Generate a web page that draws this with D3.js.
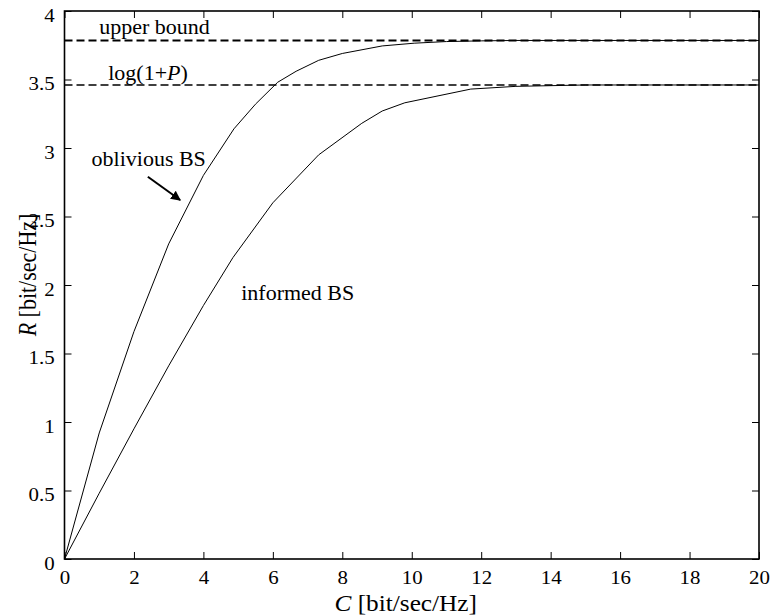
<!DOCTYPE html>
<html>
<head>
<meta charset="utf-8">
<script src="https://cdn.jsdelivr.net/npm/d3@7"></script>
<style>
    body { margin: 0; background: #fff; }
    text { font-family: "Liberation Serif", "Times New Roman", serif; fill: #000; }
</style>
</head>
<body>
<svg id="chart"></svg>
<script>
// values
const cOblivious = [0, 1, 2, 3, 4, 4.88, 5.5, 6.14, 6.67, 7.32, 8, 9.15, 10.07, 11, 12, 13, 20];
const rOblivious = [0, 0.92, 1.66, 2.3, 2.8, 3.14, 3.32, 3.48, 3.56, 3.64, 3.69, 3.745, 3.765, 3.777, 3.782, 3.785, 3.785];

const cInformed = [0, 1, 2, 3, 4, 4.85, 6, 7.32, 8.56, 9.15, 9.8, 11.7, 13, 15, 20];
const rInformed = [0, 0.48, 0.95, 1.41, 1.85, 2.2, 2.6, 2.95, 3.18, 3.27, 3.33, 3.43, 3.45, 3.46, 3.46];

const upperBound = 3.785;
const logOnePlusP = 3.46;

const xTicks = [0, 2, 4, 6, 8, 10, 12, 14, 16, 18, 20];
const xTickLabels = ["0", "2", "4", "6", "8", "10", "12", "14", "16", "18", "20"];
const yTicks = [0, 0.5, 1, 1.5, 2, 2.5, 3, 3.5, 4];
const yTickLabels = ["0", "0.5", "1", "1.5", "2", "2.5", "3", "3.5", "4"];

const width = 772, height = 616;
const margin = { top: 11, right: 13, bottom: 57, left: 64.5 };
const innerW = width - margin.left - margin.right;
const innerH = height - margin.top - margin.bottom;
const sx = 1.1; // the figure's text is a bit stretched sideways

const svg = d3.select("#chart").attr("width", width).attr("height", height);
const g = svg.append("g").attr("transform", `translate(${margin.left},${margin.top})`);

const x = d3.scaleLinear().domain([0, 20]).range([0, innerW]);
const y = d3.scaleLinear().domain([0, 4]).range([innerH, 0]);

// axes, matlab style: inward ticks on all four sides
const styleAxis = sel => {
    sel.select(".domain").remove();
    sel.selectAll("line").attr("stroke", "#000").attr("stroke-width", 1);
};

g.append("g")
    .attr("transform", `translate(0,${innerH})`)
    .call(d3.axisBottom(x).tickValues(xTicks).tickFormat((d, i) => xTickLabels[i])
        .tickSizeInner(-7).tickSizeOuter(0).tickPadding(12))
    .call(styleAxis)
    .call(a => a.selectAll("text")
        .attr("font-size", 19)
        .attr("transform", `scale(${sx},1)`));

g.append("g")
    .call(d3.axisLeft(y).tickValues(yTicks).tickFormat((d, i) => yTickLabels[i])
        .tickSizeInner(-7).tickSizeOuter(0).tickPadding(9))
    .call(styleAxis)
    .call(a => a.selectAll("text")
        .attr("font-size", 19)
        .attr("dy", "0.55em")
        .attr("transform", `scale(${sx},1)`));

g.append("g")
    .call(d3.axisTop(x).tickValues(xTicks).tickFormat("").tickSizeInner(-7).tickSizeOuter(0))
    .call(styleAxis);

g.append("g")
    .attr("transform", `translate(${innerW},0)`)
    .call(d3.axisRight(y).tickValues(yTicks).tickFormat("").tickSizeInner(-7).tickSizeOuter(0))
    .call(styleAxis);

// curves
const line = d3.line().x(d => x(d[0])).y(d => y(d[1]));

g.append("path")
    .datum(d3.zip(cOblivious, rOblivious))
    .attr("fill", "none").attr("stroke", "#000").attr("stroke-width", 1)
    .attr("d", line);

g.append("path")
    .datum(d3.zip(cInformed, rInformed))
    .attr("fill", "none").attr("stroke", "#000").attr("stroke-width", 1)
    .attr("d", line);

// dashed bounds
g.append("line")
    .attr("x1", x(0)).attr("x2", x(20))
    .attr("y1", y(upperBound)).attr("y2", y(upperBound))
    .attr("stroke", "#000").attr("stroke-width", 2).attr("stroke-dasharray", "8,4");

g.append("line")
    .attr("x1", x(0)).attr("x2", x(20))
    .attr("y1", y(logOnePlusP)).attr("y2", y(logOnePlusP))
    .attr("stroke", "#000").attr("stroke-width", 1.4).attr("stroke-dasharray", "8,4");

// frame
g.append("rect")
    .attr("width", innerW).attr("height", innerH)
    .attr("fill", "none").attr("stroke", "#000").attr("stroke-width", 1.6);

// annotations (placed in data coordinates)
const label = (cx, ry, size) => g.append("text")
    .attr("transform", `translate(${x(cx)},${y(ry)}) scale(${sx},1)`)
    .attr("font-size", size);

label(1.0, 3.83, 20).text("upper bound");

const lg = label(1.26, 3.5, 20);
lg.append("tspan").text("log(1+");
lg.append("tspan").attr("font-style", "italic").text("P");
lg.append("tspan").text(")");

label(0.78, 2.87, 20).text("oblivious BS");
label(5.09, 1.89, 20).text("informed BS");

// arrow pointing at the oblivious curve
svg.append("defs").append("marker")
    .attr("id", "head")
    .attr("viewBox", "0 0 10 10")
    .attr("refX", 9).attr("refY", 5)
    .attr("markerWidth", 5).attr("markerHeight", 5)
    .attr("markerUnits", "strokeWidth")
    .attr("orient", "auto")
    .append("path").attr("d", "M0,0 L10,5 L0,10 Z").attr("fill", "#000");

g.append("line")
    .attr("x1", x(2.4)).attr("y1", y(2.79))
    .attr("x2", x(3.33)).attr("y2", y(2.62))
    .attr("stroke", "#000").attr("stroke-width", 2)
    .attr("marker-end", "url(#head)");

// axis titles
const xt = svg.append("text")
    .attr("transform", `translate(${margin.left + innerW / 2 - 6},${height - 5}) scale(${sx},1)`)
    .attr("text-anchor", "middle").attr("font-size", 23);
xt.append("tspan").attr("font-style", "italic").text("C");
xt.append("tspan").text(" [bit/sec/Hz]");

const yt = svg.append("text")
    .attr("transform", `translate(36,${margin.top + innerH / 2 - 10}) scale(${sx},1) rotate(-90)`)
    .attr("text-anchor", "middle").attr("font-size", 22);
yt.append("tspan").attr("font-style", "italic").text("R");
yt.append("tspan").text(" [bit/sec/Hz]");
</script>
</body>
</html>
